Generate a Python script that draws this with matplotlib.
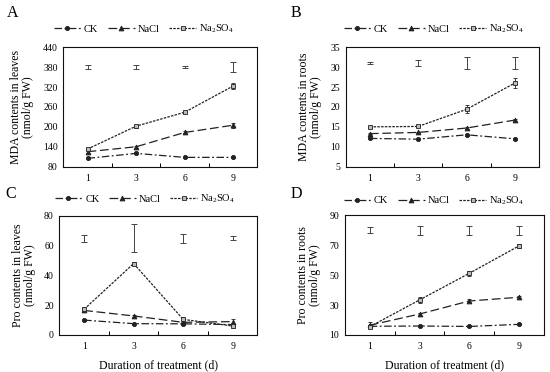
import numpy as np
import matplotlib
matplotlib.use('Agg')
import matplotlib.pyplot as plt

plt.rcParams['font.family'] = ['Liberation Serif', 'DejaVu Serif']
plt.rcParams['mathtext.fontset'] = 'custom'
plt.rcParams['mathtext.rm'] = 'Liberation Serif'

days = ['1', '3', '6', '9']
series_names = ['CK', 'NaCl', 'Na$_2$SO$_4$']

# A: MDA in leaves
mda_leaf_ck = [105, 120, 108, 108]
mda_leaf_nacl = [125, 140, 183, 205]
mda_leaf_na2so4 = [133, 202, 244, 323]
mda_leaf_err_ck = [3, 3, 2, 2]
mda_leaf_err_nacl = [3, 3, 3, 8]
mda_leaf_err_na2so4 = [4, 4, 3, 10]
mda_leaf_lsd_level = 380
mda_leaf_lsd = [6, 5, 3, 16]

# B: MDA in roots
mda_root_ck = [12.1, 11.9, 13.0, 12.0]
mda_root_nacl = [13.3, 13.6, 14.7, 16.7]
mda_root_na2so4 = [15.0, 15.1, 19.4, 26.0]
mda_root_err_ck = [0.2, 0.2, 0.2, 0.2]
mda_root_err_nacl = [0.2, 0.2, 0.2, 0.2]
mda_root_err_na2so4 = [0.2, 0.2, 1.0, 1.2]
mda_root_lsd_level = 31.1
mda_root_lsd = [0.3, 0.7, 1.5, 1.5]

# C: Pro in leaves
pro_leaf_ck = [10, 7.6, 7.5, 7]
pro_leaf_nacl = [16.5, 12.8, 8.5, 9]
pro_leaf_na2so4 = [17.3, 48, 10.5, 6]
pro_leaf_err_ck = [0.5, 0.5, 0.5, 0.5]
pro_leaf_err_nacl = [0.5, 0.5, 0.5, 1.5]
pro_leaf_err_na2so4 = [1.5, 0.8, 1.5, 1.5]
pro_leaf_lsd_level = 65
pro_leaf_lsd = [2.5, 9.5, 3, 1.5]

# D: Pro in roots
pro_root_ck = [15.8, 16.0, 15.7, 17.1]
pro_root_nacl = [16.5, 24, 32.7, 35.2]
pro_root_na2so4 = [15.5, 33.4, 51.2, 69.5]
pro_root_err_ck = [0.5, 0.5, 0.5, 0.5]
pro_root_err_nacl = [2, 1, 1, 1]
pro_root_err_na2so4 = [1, 2, 1.5, 1.5]
pro_root_lsd_level = 80
pro_root_lsd = [2, 3, 3, 3]

dark = '#222222'
styles = [
    dict(marker='o', dashes=(6, 2, 1.5, 2), mfc=dark, ms=3),
    dict(marker='^', dashes=(7, 3), mfc=dark, ms=3.5),
    dict(marker='s', dashes=(2, 1), mfc='#bbbbbb', ms=3.5),
]

fig = plt.figure(figsize=(5.5, 3.72), dpi=100)

panels = [
    dict(rect=[0.115, 0.552, 0.353, 0.321], label='A', lab_xy=(0.012, 0.965),
         data=[mda_leaf_ck, mda_leaf_nacl, mda_leaf_na2so4],
         err=[mda_leaf_err_ck, mda_leaf_err_nacl, mda_leaf_err_na2so4],
         lsd=mda_leaf_lsd, lsd_level=mda_leaf_lsd_level,
         ylim=(80, 440), yticks=np.arange(80, 441, 60),
         ylabel='MDA contents in leaves\n(nmol/g FW)', leg=(0.262, 0.922), xlabel=False),
    dict(rect=[0.6285, 0.552, 0.3515, 0.321], label='B', lab_xy=(0.528, 0.965),
         data=[mda_root_ck, mda_root_nacl, mda_root_na2so4],
         err=[mda_root_err_ck, mda_root_err_nacl, mda_root_err_na2so4],
         lsd=mda_root_lsd, lsd_level=mda_root_lsd_level,
         ylim=(5, 35), yticks=np.arange(5, 36, 5),
         ylabel='MDA contents in roots\n(nmol/g FW)', leg=(0.789, 0.922), xlabel=False),
    dict(rect=[0.108, 0.0995, 0.36, 0.32], label='C', lab_xy=(0.01, 0.478),
         data=[pro_leaf_ck, pro_leaf_nacl, pro_leaf_na2so4],
         err=[pro_leaf_err_ck, pro_leaf_err_nacl, pro_leaf_err_na2so4],
         lsd=pro_leaf_lsd, lsd_level=pro_leaf_lsd_level,
         ylim=(0, 80), yticks=np.arange(0, 81, 20),
         ylabel='Pro contents in leaves\n(nmol/g FW)', leg=(0.264, 0.465), xlabel=True),
    dict(rect=[0.627, 0.0995, 0.362, 0.322], label='D', lab_xy=(0.528, 0.478),
         data=[pro_root_ck, pro_root_nacl, pro_root_na2so4],
         err=[pro_root_err_ck, pro_root_err_nacl, pro_root_err_na2so4],
         lsd=pro_root_lsd, lsd_level=pro_root_lsd_level,
         ylim=(10, 90), yticks=np.arange(10, 91, 20),
         ylabel='Pro contents in roots\n(nmol/g FW)', leg=(0.789, 0.46), xlabel=True),
]

x = np.arange(len(days))
for p in panels:
    ax = fig.add_axes(p['rect'])
    handles = []
    for vals, errs, st, name in zip(p['data'], p['err'], styles, series_names):
        ax.errorbar(x, vals, yerr=errs, fmt='none', ecolor=dark, elinewidth=0.6,
                    capsize=1.5, capthick=0.6, zorder=2)
        h, = ax.plot(x, vals, color=dark, lw=0.9, marker=st['marker'],
                     dashes=st['dashes'], mfc=st['mfc'], mec=dark, mew=0.6,
                     ms=st['ms'], label=name, zorder=3)
        handles.append(h)
    ax.errorbar(x, [p['lsd_level']] * len(x), yerr=p['lsd'], fmt='none',
                ecolor='#444444', elinewidth=0.7, capsize=2.5, capthick=0.7)
    ax.set_xlim(-0.5, len(days) - 0.5)
    ax.set_ylim(*p['ylim'])
    ax.set_yticks(p['yticks'])
    ax.set_xticks(x)
    ax.set_xticklabels(days)
    ax.set_xticks(np.arange(0.5, len(days) - 1, 1), minor=True)
    ax.tick_params(axis='x', which='major', length=0, labelsize=7, pad=5)
    ax.tick_params(axis='x', which='minor', direction='in', length=3, width=0.7)
    ax.tick_params(axis='y', length=0, labelsize=7, pad=4)
    for s in ax.spines.values():
        s.set_linewidth(0.8)
        s.set_color('#111111')
    ax.set_ylabel(p['ylabel'], fontsize=8.5, labelpad=6, linespacing=1.0)
    if p['xlabel']:
        ax.set_xlabel('Duration of treatment (d)', fontsize=8.5, labelpad=6)
    ax.legend(handles=handles, loc='center', bbox_to_anchor=p['leg'],
              bbox_transform=fig.transFigure, ncol=3, frameon=False,
              fontsize=7.5, handlelength=2.6, columnspacing=0.9, handletextpad=0.3)
    fig.text(p['lab_xy'][0], p['lab_xy'][1], p['label'], fontsize=11.5,
             ha='left', va='center')

fig.savefig('out.png', dpi=100)
